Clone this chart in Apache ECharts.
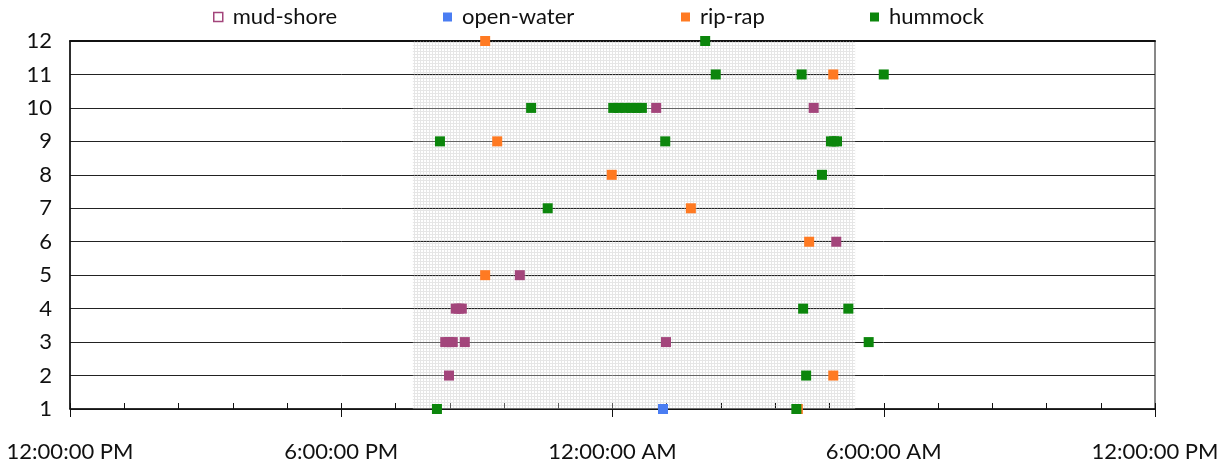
<!DOCTYPE html>
<html>
<head>
<meta charset="utf-8">
<script src="https://cdn.jsdelivr.net/npm/echarts@6/dist/echarts.min.js"></script>
<style>
  html, body { margin: 0; padding: 0; background: #fff; }
  #chart { width: 1229px; height: 470px; }
</style>
</head>
<body>
<div id="chart"></div>
<script>
// Observations: [clock time, station row]
const mudShore = [
  ['00:58', 10], ['04:27', 10],
  ['04:57', 6],
  ['21:57', 5],
  ['20:32', 4], ['20:36', 4], ['20:40', 4],
  ['20:18', 3], ['20:23', 3], ['20:28', 3], ['20:44', 3], ['01:11', 3],
  ['20:23', 2]
];
const openWater = [
  ['01:07', 1]
];
const ripRap = [
  ['21:11', 12],
  ['04:53', 11],
  ['21:27', 9],
  ['23:59', 8],
  ['01:44', 7],
  ['04:21', 6],
  ['21:11', 5],
  ['04:53', 2],
  ['04:06', 1]
];
const hummock = [
  ['02:03', 12],
  ['02:17', 11], ['04:11', 11], ['06:00', 11],
  ['22:12', 10], ['00:01', 10], ['00:08', 10], ['00:17', 10], ['00:25', 10], ['00:32', 10], ['00:39', 10],
  ['20:11', 9], ['01:10', 9], ['04:50', 9], ['04:54', 9], ['04:58', 9],
  ['04:38', 8],
  ['22:34', 7],
  ['04:13', 4], ['05:13', 4],
  ['05:40', 3],
  ['04:17', 2],
  ['20:07', 1], ['04:04', 1]
];
// Sunset to sunrise
const nightStart = '19:35';
const nightEnd = '05:22';
const xTickLabels = ['12:00:00 PM', '6:00:00 PM', '12:00:00 AM', '6:00:00 AM', '12:00:00 PM'];
const yTicks = [1, 2, 3, 4, 5, 6, 7, 8, 9, 10, 11, 12];

const seriesNames = ['mud-shore', 'open-water', 'rip-rap', 'hummock'];
const seriesColors = ['#a3457b', '#4a7df2', '#ff7a22', '#0c860c'];

// hours elapsed since noon
function hoursFromNoon(t) {
  const [h, m] = t.split(':').map(Number);
  let v = h + m / 60 - 12;
  if (v < 0) v += 24;
  return v;
}
const toPoints = arr => arr.map(([t, r]) => [hoursFromNoon(t), r]);

// fine dotted screen used for the night band
function makeScreen() {
  const c = document.createElement('canvas');
  c.width = 3; c.height = 3;
  const g = c.getContext('2d');
  g.fillStyle = 'rgba(195,195,195,0.42)';
  g.fillRect(0, 0, 3, 1);
  g.fillRect(0, 1, 1, 2);
  return c;
}

const FONT = 'Lato';
const FS = 22;
const chart = echarts.init(document.getElementById('chart'), null, { renderer: 'canvas' });

const legendLefts = [213, 443, 681, 870];
const legends = seriesNames.map((n, i) => ({
  left: legendLefts[i],
  top: 6,
  padding: 0,
  itemWidth: 9,
  itemHeight: 9,
  icon: 'rect',
  textStyle: { fontFamily: FONT, fontSize: FS, color: '#111', padding: [0, 0, 0, 5] },
  data: [i === 0
    ? { name: n, itemStyle: { color: '#fff', borderColor: seriesColors[0], borderWidth: 1.5 } }
    : { name: n }]
}));

const scatter = [mudShore, openWater, ripRap, hummock].map((d, i) => ({
  name: seriesNames[i],
  type: 'scatter',
  symbol: 'rect',
  symbolSize: 10,
  z: 3,
  itemStyle: { color: seriesColors[i], opacity: 1 },
  data: toPoints(d)
}));

chart.setOption({
  animation: false,
  legend: legends,
  grid: { left: 70, right: 74, top: 41, bottom: 61, show: true, borderColor: '#111', borderWidth: 1 },
  xAxis: [
    {
      type: 'value', min: 0, max: 24, interval: 6, position: 'bottom',
      axisLine: { show: true, onZero: false, lineStyle: { color: '#111', width: 1.5 } },
      axisTick: { show: true, inside: false, length: 8, lineStyle: { color: '#111' } },
      splitLine: { show: false },
      axisLabel: {
        margin: 32, fontFamily: FONT, fontSize: FS, color: '#111',
        formatter: v => xTickLabels[Math.round(v / 6)]
      }
    },
    {
      type: 'value', min: 0, max: 24, interval: 1.2, position: 'bottom',
      axisLine: { show: false },
      axisTick: { show: true, inside: true, length: 6, lineStyle: { color: '#111' } },
      axisLabel: { show: false },
      splitLine: { show: false }
    },
    {
      type: 'value', min: 0, max: 24, position: 'top',
      axisLine: { show: true, onZero: false, lineStyle: { color: '#111', width: 2 } },
      axisTick: { show: false },
      axisLabel: { show: false },
      splitLine: { show: false }
    }
  ],
  yAxis: {
    type: 'value', min: yTicks[0], max: yTicks[yTicks.length - 1], interval: 1,
    axisLine: { show: true, lineStyle: { color: '#111', width: 1.5 } },
    axisTick: { show: false },
    splitLine: { show: true, lineStyle: { color: '#222', width: 1 } },
    axisLabel: { margin: 18, fontFamily: FONT, fontSize: FS, color: '#111' }
  },
  series: scatter.concat([{
    name: 'night',
    type: 'scatter',
    data: [],
    z: 10,
    silent: true,
    markArea: {
      silent: true,
      itemStyle: { color: { image: makeScreen(), repeat: 'repeat' } },
      data: [[{ xAxis: hoursFromNoon(nightStart) }, { xAxis: hoursFromNoon(nightEnd) }]]
    }
  }])
});
</script>
</body>
</html>
